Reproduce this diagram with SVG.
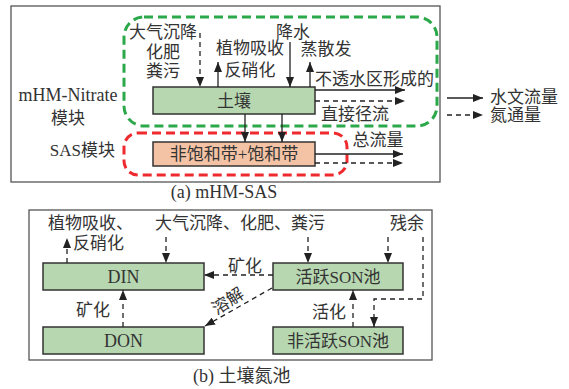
<svg xmlns="http://www.w3.org/2000/svg" width="569" height="389" viewBox="0 0 569 389">
<defs>
<marker id="ah" viewBox="0 0 10 8" refX="10" refY="4" markerWidth="10" markerHeight="8" markerUnits="userSpaceOnUse" orient="auto">
<path d="M0,0 L10,4 L0,8 Z" fill="#222"/>
</marker>
<style>
text{font-family:"Liberation Serif","Noto Sans CJK SC",serif;font-size:17px;fill:#333}
.l{font-size:18px}
.c{text-anchor:middle}
.e{text-anchor:end}
.frame{fill:#fff;stroke:#555;stroke-width:1.3}
.box{fill:#b7d7b1;stroke:#333;stroke-width:1.5}
.sas{fill:#f4c3a5;stroke:#333;stroke-width:1.5}
.s{fill:none;stroke:#222;stroke-width:1.3;marker-end:url(#ah)}
.d{fill:none;stroke:#222;stroke-width:1.3;stroke-dasharray:5 4;marker-end:url(#ah)}
</style>
</defs>
<rect width="569" height="389" fill="#fff"/>
<!-- panel a -->
<rect class="frame" x="11" y="6" width="429" height="176"/>
<rect x="124" y="17" width="313" height="109" rx="20" fill="none" stroke="#2ba84a" stroke-width="3" stroke-dasharray="9 5"/>
<rect x="124" y="133" width="223" height="42" rx="14" fill="none" stroke="#ee2a2e" stroke-width="3" stroke-dasharray="9 5"/>
<g id="soil"><rect class="box" x="153" y="87" width="162" height="27"/><text class="c" x="234" y="107">土壤</text></g>
<g id="sasbox"><rect class="sas" x="153" y="142" width="162" height="24"/><text class="c" x="234" y="160">非饱和带+饱和带</text></g>
<g id="labels-a">
<text class="c" x="163" y="38">大气沉降</text>
<text class="c" x="163" y="58">化肥</text>
<text class="c" x="163" y="77">粪污</text>
<text class="c" x="250" y="54">植物吸收</text>
<text class="c" x="250" y="76">反硝化</text>
<text class="c" x="293" y="38">降水</text>
<text class="c" x="326" y="55">蒸散发</text>
<text x="315" y="85">不透水区形成的</text>
<text class="c" x="355" y="120">直接径流</text>
<text class="c" x="378" y="146">总流量</text>
<text class="c l" x="68" y="101">mHM-Nitrate</text>
<text class="c" x="68" y="124">模块</text>
<text class="e" x="115" y="156">SAS模块</text>
<text x="490" y="103">水文流量</text>
<text x="490" y="121">氮通量</text>
<text class="c l" x="224" y="198">(a) mHM-SAS</text>
</g>
<g id="connectors-a">
<path class="d" d="M200,33 V87"/>
<path class="s" d="M218,87 V62"/>
<path class="s" d="M290,42 V87"/>
<path class="s" d="M310,87 V62"/>
<path class="s" d="M315,90 H405"/>
<path class="d" d="M315,101 H405"/>
<path class="s" d="M245,114 V142"/>
<path class="s" d="M282,114 V142"/>
<path class="s" d="M315,154 H403"/>
<path class="d" d="M315,163 H403"/>
<path class="s" d="M447,98 H483"/>
<path class="d" d="M447,115 H483"/>
</g>
<!-- panel b -->
<rect class="frame" x="29" y="210" width="403" height="150"/>
<g id="din"><rect class="box" x="43" y="263" width="161" height="27"/><text class="c l" x="123.5" y="283">DIN</text></g>
<g id="don"><rect class="box" x="43" y="327" width="161" height="27"/><text class="c l" x="123.5" y="347">DON</text></g>
<g id="active"><rect class="box" x="273" y="263" width="130" height="27"/><text class="c" x="338" y="283">活跃SON池</text></g>
<g id="inactive"><rect class="box" x="273" y="327" width="130" height="27"/><text class="c" x="338" y="347">非活跃SON池</text></g>
<g id="labels-b">
<text x="48" y="229">植物吸收、</text>
<text x="73" y="249">反硝化</text>
<text x="155" y="229">大气沉降、化肥、粪污</text>
<text x="390" y="229">残余</text>
<text class="c" x="245" y="272">矿化</text>
<text class="c" transform="translate(231,306) rotate(-33)">溶解</text>
<text x="76" y="316">矿化</text>
<text x="312" y="318">活化</text>
<text class="l" x="193" y="382">(b) 土壤氮池</text>
</g>
<g id="connectors-b">
<path class="d" d="M67,263 V238"/>
<path class="d" d="M166,237 V263"/>
<path class="d" d="M308,237 V263"/>
<path class="d" d="M388,237 V263"/>
<path class="d" d="M423,237 V299 H374 V327"/>
<path class="d" d="M273,275 H204"/>
<path class="d" d="M272,288 L205,326"/>
<path class="d" d="M123,327 V290"/>
<path class="d" d="M353,327 V290"/>
</g>
</svg>
